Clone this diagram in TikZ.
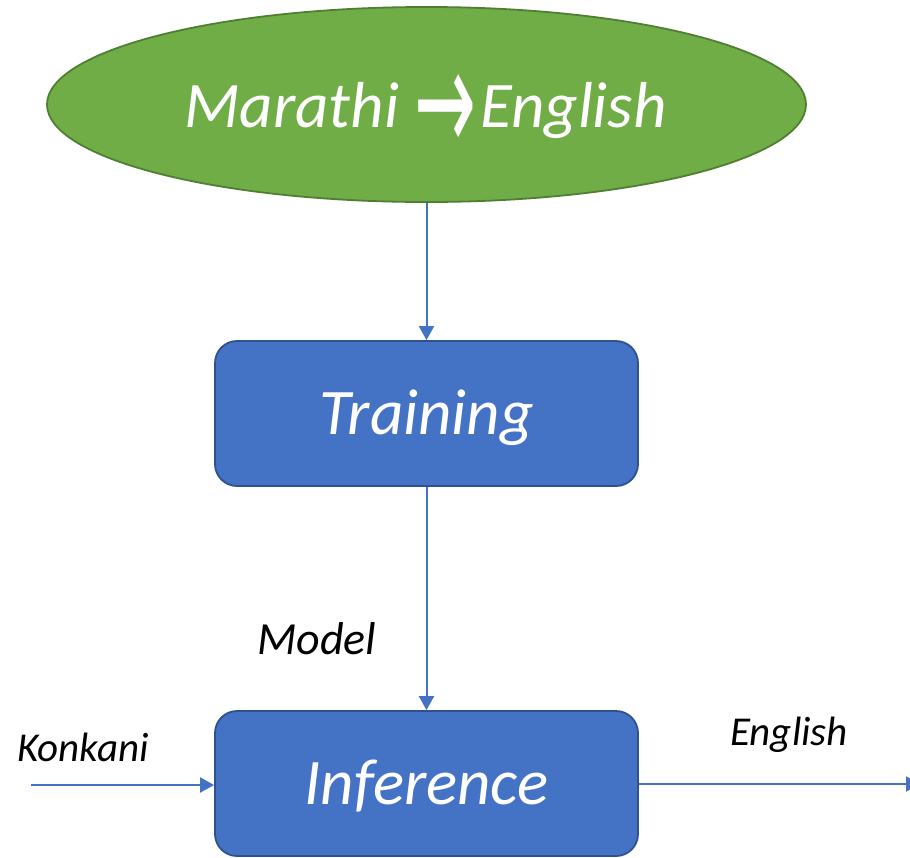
\documentclass[tikz,border=0pt]{standalone}
\usepackage{fontspec}
\usepackage{graphicx}
\setmainfont{Carlito}
\newfontfamily\dejavu{DejaVu Sans}
\usetikzlibrary{shapes.geometric,arrows.meta}
\definecolor{gfill}{HTML}{70AD47}
\definecolor{gline}{HTML}{507E32}
\definecolor{bfill}{HTML}{4472C4}
\definecolor{bline}{HTML}{2F528F}
\newcommand{\bigarrowglyph}{\raisebox{-25pt}{\resizebox{62pt}{78pt}{\dejavu\upshape →}}}
\tikzset{
  bigtext/.style={text=white, font=\fontsize{65}{70}\selectfont\itshape, text height=41pt, text depth=0pt, inner sep=0pt},
  procbox/.style={bigtext, draw=bline, fill=bfill, line width=1.8pt, rounded corners=22pt, minimum width=423pt, minimum height=145pt},
  flow/.style={draw=bfill, line width=2pt, -{Triangle[length=14pt,width=15pt]}},
  lbl/.style={font=\itshape, text=black, inner sep=0pt, anchor=base west}
}
\begin{document}
\begin{tikzpicture}[x=1pt,y=-1pt]
\useasboundingbox (0,0) rectangle (910,857);
\clip (0,0) rectangle (910,857);
\node[ellipse, draw=gline, fill=gfill, line width=1.8pt, minimum width=759pt, minimum height=195pt] (src) at (426.5,104.5) {};
\node[bigtext, anchor=base west] (srctext) at (184,127) {Marathi\hspace{15pt}\bigarrowglyph\hspace{4pt}English};
\node[procbox] (train) at (426.5,413.5) {Training};
\node[procbox] (infer) at (426.5,783.5) {Inference};
\coordinate (kin) at (31,785);
\coordinate (eout) at (920,784);
\draw[flow] (src.south) -- (train.north);
\draw[flow] (train.south) -- (infer.north);
\draw[flow] (kin) -- (kin -| infer.west);
\draw[flow] (infer.east |- eout) -- (eout);
\node[lbl, font=\fontsize{46}{50}\selectfont\itshape] (model) at (257,654) {Model};
\node[lbl, font=\fontsize{41}{44}\selectfont\itshape] (konkani) at (17,761) {Konkani};
\node[lbl, font=\fontsize{41}{44}\selectfont\itshape] (english) at (730,745) {English};
\end{tikzpicture}
\end{document}
